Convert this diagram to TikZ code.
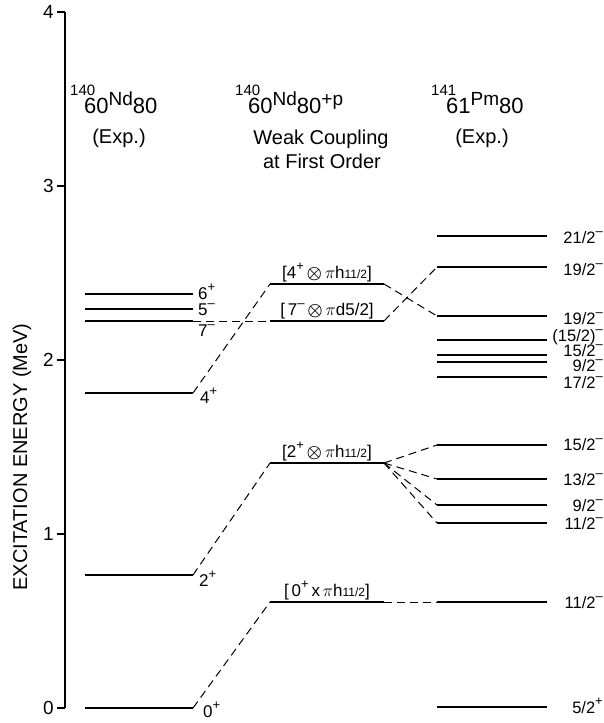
\documentclass[tikz,border=0pt]{standalone}
\usepackage{fontspec}
\usepackage{amsmath}
\setmainfont{Liberation Sans}
\newcommand\Jsup[1]{\raisebox{0.45em}{\fontsize{13}{13}\selectfont #1}}
\newcommand\Jsmall[1]{{\fontsize{12}{12}\selectfont #1}}
\newcommand\Jot{$\boldsymbol{\otimes}$}
\newcommand\nuc[6]{\llap{\raisebox{18pt}{\fontsize{15}{15}\selectfont #1}\hspace{-#6pt}}#2\raisebox{8pt}{\fontsize{19}{19}\selectfont #3}#4\raisebox{8pt}{\fontsize{19}{19}\selectfont #5}}
\begin{document}
\begin{tikzpicture}[x=1pt,y=-1pt,
  lev/.style={line width=2.5pt},
  levthin/.style={line width=1.8pt},
  conn/.style={dash pattern=on 8pt off 5pt, line width=1pt},
  txt/.style={font=\fontsize{19}{21}\selectfont, inner sep=0pt},
  hd/.style={font=\fontsize{20}{22}\selectfont, inner sep=0pt},
  nucl/.style={font=\fontsize{22}{24}\selectfont, inner sep=0pt, anchor=base west},
  mlab/.style={font=\fontsize{17}{19}\selectfont, inner sep=0pt, anchor=base},
  rlab/.style={font=\fontsize{16.5}{18}\selectfont, inner sep=0pt, anchor=base east},
  llab/.style={font=\fontsize{17}{19}\selectfont, inner sep=0pt, anchor=base west}]
\useasboundingbox (0,0) rectangle (604,723);

% axis
\coordinate (atop) at (65,12);
\coordinate (abot) at (65,708);
\draw[line width=1.6pt] (atop) -- (abot);
\foreach \v/\y in {4/12,3/186,2/360,1/534,0/708}{
  \coordinate (t\v) at (57,\y);
  \draw[line width=1.6pt] (t\v) -- (65,\y);
  \node[txt, anchor=east] (tl\v) at (54,\y) {\v};
}
\node[rotate=90, inner sep=0pt, font=\fontsize{20}{22}\selectfont] (ylab) at (22,457) {EXCITATION ENERGY (MeV)};

% headers
\node[nucl] (h1) at (84,113) {\nuc{140}{60}{Nd}{80}{}{11}};
\node[hd] (h1e) at (119,138) {(Exp.)};
\node[nucl] (h2) at (248,113) {\nuc{140}{60}{Nd}{80}{+p}{12}};
\node[hd] (h2a) at (321,139) {Weak Coupling};
\node[hd] (h2b) at (322,161) {at First Order};
\node[nucl] (h3) at (446,113) {\nuc{141}{61}{Pm}{80}{}{10}};
\node[hd] (h3e) at (482,138) {(Exp.)};

% left levels (140Nd exp.)
\foreach \n/\y/\st in {0/708/levthin,2/575/levthin,4/393/levthin,7/321/lev,5/309/lev,6/294/lev}{
  \coordinate (L\n a) at (85,\y);
  \coordinate (L\n b) at (193,\y);
  \draw[\st] (L\n a) -- (L\n b);
}
\node[llab] (l6) at (198,299) {6\Jsup{+}};
\node[llab] (l5) at (198,315) {5\Jsup{–}};
\node[llab] (l7) at (198,336) {7\Jsup{–}};
\node[llab] (l4) at (200,403) {4\Jsup{+}};
\node[llab] (l2) at (199,586) {2\Jsup{+}};
\node[llab] (l0) at (203,717) {0\Jsup{+}};

% middle levels (weak coupling)
\foreach \n/\y in {0/602,2/463,7/321,4/284}{
  \coordinate (M\n a) at (270,\y);
  \coordinate (M\n b) at (384,\y);
  \draw[lev] (M\n a) -- (M\n b);
}
\node[mlab] (m4) at (327,278) {[4\Jsup{+}\,\Jot\,$\pi$h\Jsmall{11/2}]};
\node[mlab] (m7) at (327,315) {[\,7\Jsup{–}\,\Jot\,$\pi$d5/2]};
\node[mlab] (m2) at (327,457) {[2\Jsup{+}\,\Jot\,$\pi$h\Jsmall{11/2}]};
\node[mlab] (m0) at (327,596) {[\,0\Jsup{+}\,x\,$\pi$h\Jsmall{11/2}]};

% right levels (141Pm exp.)
\foreach \n/\y/\st in {g/707/levthin,a/602/lev,b/523/lev,c/505/lev,d/479/lev,e/445/lev,f/377/lev,h/362/lev,i/355/lev,j/340/lev,k/316/lev,l/267/lev,m/236/lev}{
  \coordinate (R\n a) at (437,\y);
  \coordinate (R\n b) at (547,\y);
  \draw[\st] (R\n a) -- (R\n b);
}
\node[rlab] (rm) at (603,243) {21/2\Jsup{–}};
\node[rlab] (rl) at (603,275) {19/2\Jsup{–}};
\node[rlab] (rk) at (603,324) {19/2\Jsup{–}};
\node[rlab] (rj) at (603,341) {(15/2)\Jsup{–}};
\node[rlab] (ri) at (603,356) {15/2\Jsup{–}};
\node[rlab] (rh) at (603,371) {9/2\Jsup{–}};
\node[rlab] (rf) at (603,388) {17/2\Jsup{–}};
\node[rlab] (re) at (603,450) {15/2\Jsup{–}};
\node[rlab] (rd) at (603,485) {13/2\Jsup{–}};
\node[rlab] (rc) at (603,511) {9/2\Jsup{–}};
\node[rlab] (rb) at (603,529) {11/2\Jsup{–}};
\node[rlab] (ra) at (603,608) {11/2\Jsup{–}};
\node[rlab] (rg) at (603,713) {5/2\Jsup{+}};

% dashed connectors
\draw[conn] (L0b) -- (M0a);
\draw[conn] (L2b) -- (M2a);
\draw[conn] (L4b) -- (M4a);
\draw[conn] (L7b) -- (M7a);
\draw[conn] (M0b) -- (Raa);
\draw[conn] (M2b) -- (Rea);
\draw[conn] (M2b) -- (Rda);
\draw[conn] (M2b) -- (Rca);
\draw[conn] (M2b) -- (Rba);
\draw[conn] (M4b) -- (Rka);
\draw[conn] (M7b) -- (Rla);
\end{tikzpicture}
\end{document}
